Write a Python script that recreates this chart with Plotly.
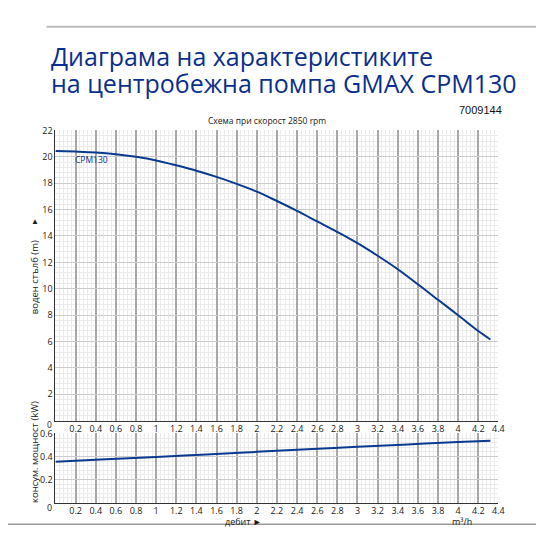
import plotly.graph_objects as go

# Pump curve readings (m3/h -> m, kW)
flow = [0, 0.2, 0.4, 0.6, 0.8, 1.0, 1.2, 1.4, 1.6, 1.8, 2.0, 2.2, 2.4,
        2.6, 2.8, 3.0, 3.2, 3.4, 3.6, 3.8, 4.0, 4.2, 4.32]
head = [20.45, 20.4, 20.33, 20.2, 20.0, 19.73, 19.36, 18.95, 18.48, 17.95,
        17.36, 16.65, 15.9, 15.1, 14.3, 13.45, 12.5, 11.48, 10.34, 9.16,
        7.99, 6.79, 6.15]

power_flow = [0, 0.5, 1.0, 1.5, 2.0, 2.5, 3.0, 3.5, 4.0, 4.32]
power = [0.355, 0.375, 0.395, 0.418, 0.44, 0.462, 0.484, 0.505, 0.525, 0.536]

x_ticks = [0.2, 0.4, 0.6, 0.8, 1, 1.2, 1.4, 1.6, 1.8, 2, 2.2, 2.4, 2.6, 2.8,
           3, 3.2, 3.4, 3.6, 3.8, 4, 4.2, 4.4]
x_labels = [f"{v:g}" for v in x_ticks]
head_ticks = [2, 4, 6, 8, 10, 12, 14, 16, 18, 20, 22]
power_ticks = [0.2, 0.4, 0.6]

# page has an 8px body margin on each side; keep the figure inside the window
OFF = 8
W = H = 534
BLUE = "#0b2f8c"
LINE = "#0a3a8f"
FONT = "Open Sans, sans-serif"
TXT = "#1a1a1a"


def px(x):
    return (x - OFF) / W


def py(y):
    return 1 - (y - OFF) / H


fig = go.Figure()

fig.add_trace(go.Scatter(x=flow, y=head, mode="lines", xaxis="x", yaxis="y",
                         line=dict(color=LINE, width=2, shape="spline"),
                         showlegend=False))
fig.add_trace(go.Scatter(x=power_flow, y=power, mode="lines", xaxis="x2", yaxis="y2",
                         line=dict(color=LINE, width=2, shape="spline"),
                         showlegend=False))

xaxis_common = dict(
    range=[0, 4.4], tickvals=x_ticks, ticktext=x_labels, ticks="",
    showgrid=True, gridcolor="#a8a8a8", gridwidth=1.6,
    minor=dict(dtick=0.04, showgrid=True, gridcolor="#ebebeb", gridwidth=0.6),
    showline=True, linecolor="#333", linewidth=1,
    tickfont=dict(family=FONT, size=9, color=TXT, weight=500),
    zeroline=False, fixedrange=True,
)
yaxis_common = dict(
    showgrid=True, gridcolor="#cccccc", gridwidth=1.2, ticks="",
    showline=True, linecolor="#333", linewidth=1,
    tickfont=dict(family=FONT, size=9, color=TXT, weight=500),
    zeroline=False, fixedrange=True,
)

fig.update_layout(
    width=W, height=H,
    margin=dict(l=0, r=0, t=0, b=0),
    paper_bgcolor="white", plot_bgcolor="white",
    xaxis=dict(domain=[px(56), px(504)], anchor="y", **xaxis_common),
    yaxis=dict(domain=[py(419), py(125)], anchor="x", range=[0, 22],
               tickvals=head_ticks,
               minor=dict(dtick=0.4, showgrid=True, gridcolor="#ebebeb", gridwidth=0.6),
               **yaxis_common),
    xaxis2=dict(domain=[px(56), px(504)], anchor="y2", **xaxis_common),
    yaxis2=dict(domain=[py(502), py(432)], anchor="x2", range=[0, 0.6],
                tickvals=power_ticks, ticktext=["0.2", "0.4", "0.6"],
                minor=dict(dtick=0.04, showgrid=True, gridcolor="#ebebeb", gridwidth=0.6),
                **yaxis_common),
    showlegend=False,
)

ann = [
    dict(x=px(49), y=py(50), text="Диаграма на характеристиките",
         xanchor="left", yanchor="middle",
         font=dict(family=FONT, size=25, color=BLUE, weight=500)),
    dict(x=px(49), y=py(77), text="на центробежна помпа GMAX CPM130",
         xanchor="left", yanchor="middle",
         font=dict(family=FONT, size=25, color=BLUE, weight=500)),
    dict(x=px(510), y=py(104), text="7009144", xanchor="right", yanchor="middle",
         font=dict(family="Liberation Sans, Arial", size=11, color="#111")),
    dict(x=px(270), y=py(115), text="Схема при скорост 2850 rpm", xanchor="center",
         yanchor="middle", font=dict(family=FONT, size=8.5, color=TXT, weight=500)),
    dict(x=px(35), y=py(274), text="воден стълб (m)", textangle=-90,
         xanchor="center", yanchor="middle",
         font=dict(family=FONT, size=9.5, color=TXT, weight=500)),
    dict(x=px(35), y=py(216), text="▲", xanchor="center", yanchor="middle",
         font=dict(family=FONT, size=8, color=TXT)),
    dict(x=px(34), y=py(451), text="консум. мощност (kW)", textangle=-90,
         xanchor="center", yanchor="middle",
         font=dict(family=FONT, size=9.5, color=TXT, weight=500)),
    dict(x=px(246), y=py(521), text="дебит ►", xanchor="center", yanchor="middle",
         font=dict(family=FONT, size=9, color=TXT, weight=500)),
    dict(x=px(467), y=py(521), text="m³/h", xanchor="center", yanchor="middle",
         font=dict(family=FONT, size=9, color=TXT, weight=500)),
    # corner zeros
    dict(x=px(50), y=py(423), text="0", xanchor="center", yanchor="middle",
         font=dict(family=FONT, size=8.5, color=TXT, weight=500)),
    dict(x=px(50), y=py(507), text="0", xanchor="center", yanchor="middle",
         font=dict(family=FONT, size=9, color=TXT, weight=500)),
]
for a in ann:
    a.update(xref="paper", yref="paper", showarrow=False)
    fig.add_annotation(**a)

# curve label
fig.add_annotation(x=0.17, y=19.8, xref="x", yref="y", text="CPM130", showarrow=False,
                   xanchor="left", yanchor="middle",
                   font=dict(family=FONT, size=8.5, color=BLUE, weight=500))

# axis arrows
for xr, yr, top in [("x", "y", 22.6), ("x2", "y2", 0.63)]:
    fig.add_annotation(x=0, y=top, xref=xr, yref=yr, ax=0, ay=8, showarrow=True,
                       arrowhead=2, arrowsize=0.6, arrowwidth=1, arrowcolor="#222",
                       text="")
    fig.add_annotation(x=4.47, y=0, xref=xr, yref=yr, ax=-8, ay=0, showarrow=True,
                       arrowhead=2, arrowsize=0.6, arrowwidth=1, arrowcolor="#222",
                       text="")

# decorative frame lines
fig.add_shape(type="line", xref="paper", yref="paper", x0=px(47), x1=1,
              y0=py(20), y1=py(20), layer="above", line=dict(color="#bdbdbd", width=2))
fig.add_shape(type="line", xref="paper", yref="paper", x0=0, x1=1,
              y0=py(524), y1=py(524), line=dict(color="#9a9a9a", width=1.5))

fig.write_html("out.html")
